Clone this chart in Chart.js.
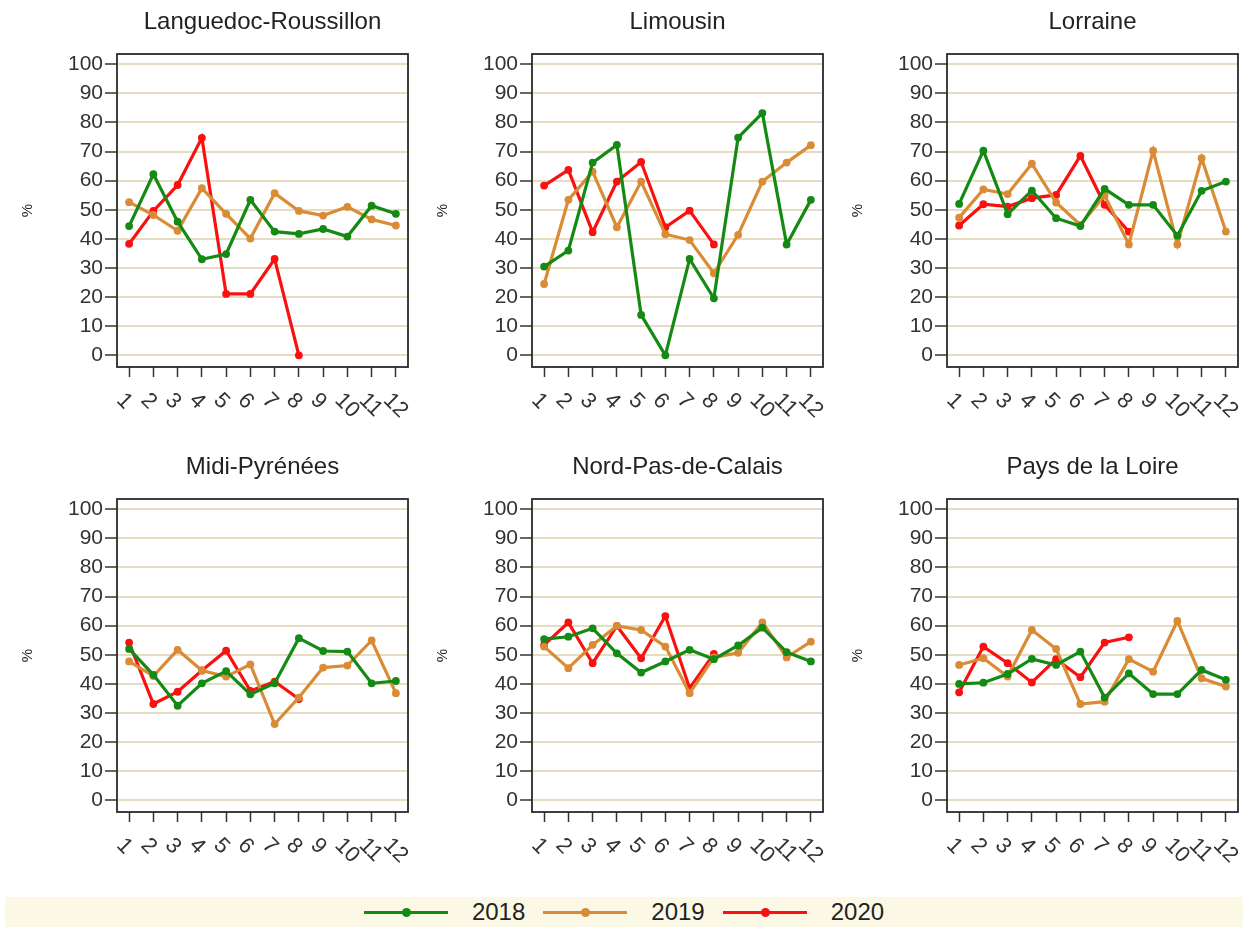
<!DOCTYPE html>
<html>
<head>
<meta charset="utf-8">
<script src="https://cdn.jsdelivr.net/npm/chart.js@4.4.0/dist/chart.umd.min.js"></script>
<style>
body{margin:0;background:#fff;width:1243px;height:927px;overflow:hidden;position:relative;font-family:'Liberation Sans',Arial,sans-serif}
.panel{position:absolute;height:445px}
#legend{position:absolute;left:5px;top:897px;width:1238px;height:30px;background:#fbf8e6;display:flex;justify-content:center;align-items:center}
.item{display:flex;align-items:center;margin:0 9px}
.line{position:relative;width:84px;height:3px;margin-right:24px}
.dot{position:absolute;left:38px;top:-3px;width:9px;height:9px;border-radius:50%}
.lab{font-size:24px;color:#222}
</style>
</head>
<body>
<div id="legend"></div>
<script>
// months on the x axis
var months = ['1','2','3','4','5','6','7','8','9','10','11','12'];
var years = ['2018','2019','2020'];
var regions = ['Languedoc-Roussillon','Limousin','Lorraine','Midi-Pyrénées','Nord-Pas-de-Calais','Pays de la Loire'];
var yTicks = [0,10,20,30,40,50,60,70,80,90,100];

// one row per region, values in %
var v2018 = [
  [44.4,62.2,45.9,33.0,34.8,53.4,42.5,41.7,43.4,40.8,51.4,48.6],
  [30.5,36.0,66.2,72.3,13.9,0,33.1,19.6,74.8,83.2,38.1,53.4],
  [52.0,70.3,48.5,56.6,47.1,44.4,57.2,51.7,51.7,41.1,56.5,59.7],
  [52.0,43.1,32.5,40.2,44.4,36.4,40.2,55.7,51.3,51.1,40.2,41.0],
  [55.4,56.2,59.1,50.5,43.9,47.7,51.7,48.5,53.2,59.3,50.9,47.7],
  [40.0,40.4,43.4,48.6,46.5,51.1,35.3,43.6,36.5,36.5,44.8,41.4]
];
var v2019 = [
  [52.6,48.2,42.8,57.4,48.6,40.1,55.7,49.6,48.0,51.0,46.7,44.6],
  [24.5,53.4,63.1,44.0,59.7,41.6,39.6,28.2,41.4,59.7,66.2,72.2],
  [47.3,57.0,55.4,65.8,52.5,44.8,54.9,38.1,70.3,38.1,67.7,42.5],
  [47.7,42.7,51.7,44.6,42.5,46.7,26.2,35.3,45.6,46.3,54.9,36.8],
  [52.8,45.4,53.4,59.9,58.5,52.8,36.8,49.1,50.7,61.1,49.1,54.5],
  [46.5,48.8,42.5,58.5,52.0,33.1,33.9,48.5,44.2,61.6,41.9,39.1]
];
var v2020 = [
  [38.3,49.6,58.5,74.7,21.1,21.1,33.1,0],
  [58.3,63.7,42.3,59.7,66.4,44.0,49.7,38.1],
  [44.6,51.9,51.1,54.0,55.1,68.5,51.7,42.5],
  [54.2,33.1,37.3,44.6,51.4,37.6,40.8,34.8],
  [53.4,61.1,47.1,59.9,48.8,63.3,38.5,50.3],
  [37.1,52.8,47.1,40.5,48.5,42.3,54.2,56.0]
];
var colors = ['#148a14','#d98b35','#fa1010'];

var framePlugin = {
  id: 'frame',
  afterDatasetsDraw: function(chart){
    var a = chart.chartArea, c = chart.ctx;
    c.save();
    c.strokeStyle = '#2a2a2a';
    c.lineWidth = 1.8;
    c.strokeRect(a.left, a.top, a.right - a.left, a.bottom - a.top);
    c.restore();
  }
};

// x labels turned clockwise, starting at the tick
var xLabelPlugin = {
  id: 'xlabels',
  afterDraw: function(chart){
    var s = chart.scales.x, c = chart.ctx;
    c.save();
    c.font = '22px "Liberation Sans", Arial';
    c.fillStyle = '#333';
    c.textAlign = 'left';
    c.textBaseline = 'middle';
    s.ticks.forEach(function(t, k){
      var x = s.getPixelForTick(k);
      c.save();
      c.translate(x - 9, s.top + 30);
      c.rotate(Math.PI / 4);
      c.fillText(s.getLabelForValue(t.value), 0, 0);
      c.restore();
    });
    c.restore();
  }
};

function series(vals, k){
  return {
    label: years[k], data: vals,
    borderColor: colors[k], backgroundColor: colors[k],
    borderWidth: 3.2, pointRadius: 3.9, pointBorderWidth: 0,
    pointBackgroundColor: colors[k], tension: 0
  };
}

function makePanel(i){
  var col = i % 3, row = Math.floor(i / 3);
  var w = col == 2 ? 413 : 415;
  var div = document.createElement('div');
  div.className = 'panel';
  div.style.left = (col * 415) + 'px';
  div.style.top = (row * 445) + 'px';
  div.style.width = w + 'px';
  var cv = document.createElement('canvas');
  div.appendChild(cv);
  document.body.appendChild(div);

  new Chart(cv, {
    type: 'line',
    data: {labels: months, datasets: [series(v2018[i],0), series(v2019[i],1), series(v2020[i],2)]},
    options: {
      responsive: true, maintainAspectRatio: false, animation: false,
      layout: {padding: {top: 0, left: 0, right: w - 408, bottom: 0}},
      plugins: {
        legend: {display: false},
        tooltip: {enabled: false},
        title: {display: true, text: regions[i], fullSize: false, color: '#222',
                font: {size: 24, weight: 'normal', family: '"Liberation Sans", Arial'},
                padding: {top: 8, bottom: 17.2}}
      },
      scales: {
        x: {
          offset: true,
          grid: {drawOnChartArea: false, tickLength: 10, tickColor: '#333', tickWidth: 1.5},
          border: {display: false},
          ticks: {display: false},
          afterFit: function(s){ s.height = 78; }
        },
        y: {
          min: -4, max: 103.5,
          afterBuildTicks: function(s){ s.ticks = yTicks.map(function(v){ return {value: v}; }); },
          grid: {color: '#e6dcc0', lineWidth: 2, tickLength: 12, tickColor: '#333', tickWidth: 1.5},
          border: {display: false},
          ticks: {color: '#333', padding: 2, font: {size: 21, family: '"Liberation Sans", Arial'}},
          title: {display: true, text: '%', color: '#222', font: {size: 15, family: '"Liberation Sans", Arial'}, padding: {top: 19}},
          afterFit: function(s){ s.width = 117; }
        }
      }
    },
    plugins: [framePlugin, xLabelPlugin]
  });
}

for (var i = 0; i < regions.length; i++) makePanel(i);

// legend strip
var lg = document.getElementById('legend');
years.forEach(function(y, k){
  var it = document.createElement('div'); it.className = 'item';
  var ln = document.createElement('div'); ln.className = 'line'; ln.style.background = colors[k];
  var dt = document.createElement('div'); dt.className = 'dot'; dt.style.background = colors[k];
  ln.appendChild(dt);
  var lb = document.createElement('span'); lb.className = 'lab'; lb.textContent = y;
  it.appendChild(ln); it.appendChild(lb);
  lg.appendChild(it);
});
</script>
</body>
</html>
